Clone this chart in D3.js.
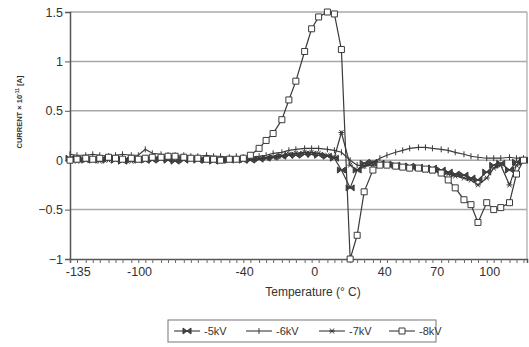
<!DOCTYPE html>
<html>
<head>
<meta charset="utf-8">
<script src="https://cdn.jsdelivr.net/npm/d3@7/dist/d3.min.js"></script>
<style>
  body { margin: 0; background: #fff; }
  svg { display: block; font-family: 'Liberation Sans', Arial, sans-serif; }
</style>
</head>
<body>
<svg id="chart" width="529" height="347"></svg>
<script>
// measurement temperatures (deg C), one per category tick
const temps = [-138, -134, -129, -125, -121, -116, -112, -108, -103, -99, -95, -91, -86, -82, -78, -73,
  -69, -65, -60, -56, -52, -47, -43, -39, -35, -30, -26, -22, -17, -13, -9, -4, 0, 4, 9, 13, 17, 22,
  26, 30, 35, 39, 43, 48, 52, 56, 61, 65, 69, 74, 78, 82, 87, 91, 95, 100, 104, 108, 113, 117, 121];

const xTickLabels = [-135, -100, -40, 0, 40, 70, 100];
const yTickLabels = [-1, -0.5, 0, 0.5, 1, 1.5];

const seriesNames = ['-5kV', '-6kV', '-7kV', '-8kV'];

const kv5 = [0.02, 0.01, 0.0, 0.01, 0.0, 0.01, 0.0, -0.01, 0.0, 0.01, 0.0, 0.0, 0.01, 0.0, -0.01, 0.0,
  0.01, 0.0, 0.0, -0.01, 0.0, 0.0, 0.01, 0.0, 0.0, 0.01, 0.02, 0.03, 0.04, 0.05, 0.05, 0.06, 0.06, 0.05,
  0.04, 0.02, -0.1, -0.28, -0.1, -0.03, -0.02, -0.03, -0.04, -0.05, -0.06, -0.06, -0.07, -0.08, -0.08,
  -0.1, -0.12, -0.14, -0.15, -0.18, -0.2, -0.12, -0.05, -0.03, -0.1, -0.02, 0.0];

const kv6 = [0.06, 0.05, 0.05, 0.06, 0.05, 0.04, 0.05, 0.06, 0.05, 0.05, 0.11, 0.07, 0.06, 0.05, 0.05, 0.05,
  0.04, 0.04, 0.05, 0.04, 0.04, 0.03, 0.04, 0.03, 0.03, 0.04, 0.05, 0.07, 0.08, 0.1, 0.11, 0.12, 0.12, 0.12,
  0.11, 0.1, 0.08, 0.0, -0.05, -0.06, -0.03, 0.02, 0.05, 0.08, 0.1, 0.12, 0.13, 0.13, 0.12, 0.11, 0.1,
  0.08, 0.06, 0.04, 0.03, 0.02, 0.02, 0.02, 0.03, 0.02, 0.02];

const kv7 = [0.0, -0.01, 0.0, 0.0, -0.01, 0.0, 0.01, 0.0, -0.01, 0.0, 0.0, 0.01, 0.02, 0.02, 0.03, 0.03,
  0.02, 0.01, 0.01, 0.02, 0.01, 0.0, 0.01, 0.0, 0.01, 0.02, 0.02, 0.03, 0.04, 0.06, 0.07, 0.08, 0.08, 0.07,
  0.05, 0.03, 0.28, -0.05, -0.1, -0.06, -0.05, -0.04, -0.04, -0.05, -0.06, -0.07, -0.08, -0.1, -0.11,
  -0.12, -0.14, -0.16, -0.18, -0.2, -0.25, -0.18, -0.08, -0.05, -0.25, -0.05, 0.0];

const kv8 = [0.0, 0.01, 0.02, 0.01, 0.02, 0.03, 0.02, 0.01, 0.02, 0.01, 0.02, 0.03, 0.03, 0.04, 0.04, 0.03,
  0.02, 0.02, 0.01, 0.01, 0.0, 0.01, 0.01, 0.02, 0.05, 0.12, 0.2, 0.27, 0.41, 0.61, 0.8, 1.1, 1.33, 1.45,
  1.5, 1.48, 1.12, -1.0, -0.76, -0.32, -0.1, -0.05, -0.05, -0.06, -0.07, -0.08, -0.08, -0.09, -0.1,
  -0.13, -0.2, -0.28, -0.4, -0.45, -0.63, -0.43, -0.5, -0.48, -0.43, -0.14, 0.0];

const seriesValues = [kv5, kv6, kv7, kv8];

// marker shapes, centred on 0,0
const markerPaths = [
  'M-4,-3L4,3L4,-3L-4,3Z',            // bowtie
  'M0,-3V3',                            // small tick / plus
  'M-3,0H3M-2,-2.5L2,2.5M2,-2.5L-2,2.5', // asterisk
  'M-3,-3H3V3H-3Z'                      // square
];

const svg = d3.select('#chart');
const plotLeft = 70, plotRight = 527, plotTop = 12, plotBottom = 259;

const x = d3.scaleLinear().domain([-138, 123]).range([plotLeft, plotRight]);
const y = d3.scaleLinear().domain([-1, 1.5]).range([plotBottom, plotTop]);

// horizontal gridlines
svg.append('g')
  .selectAll('line')
  .data(yTickLabels.filter(v => v > -1))
  .join('line')
  .attr('x1', plotLeft).attr('x2', plotRight)
  .attr('y1', d => y(d)).attr('y2', d => y(d))
  .attr('stroke', '#a8a8a8')
  .attr('stroke-width', 1.5);

// right frame edge
svg.append('line')
  .attr('x1', plotRight).attr('x2', plotRight)
  .attr('y1', plotTop).attr('y2', plotBottom)
  .attr('stroke', '#a8a8a8')
  .attr('stroke-width', 1.2);

// y axis
const yAxis = svg.append('g')
  .attr('transform', `translate(${plotLeft},0)`)
  .call(d3.axisLeft(y).tickValues(yTickLabels).tickSize(5).tickPadding(2).tickFormat(d3.format('')));
yAxis.select('.domain').attr('stroke', '#555').attr('stroke-width', 1.5);
yAxis.selectAll('.tick line').attr('stroke', '#555');
yAxis.selectAll('.tick text')
  .attr('fill', '#333')
  .style('font-size', '12.5px');

// x axis: minor ticks at every measurement, labels at a few
const xAxis = svg.append('g')
  .attr('transform', `translate(0,${plotBottom})`)
  .call(d3.axisBottom(x).tickValues(temps).tickSize(4).tickFormat(''));
xAxis.select('.domain').attr('stroke', '#555').attr('stroke-width', 1.5);
xAxis.selectAll('.tick line').attr('stroke', '#666');

svg.append('g')
  .selectAll('text')
  .data(xTickLabels)
  .join('text')
  .attr('x', d => x(d) + 3)
  .attr('y', plotBottom + 17)
  .attr('text-anchor', 'middle')
  .attr('fill', '#333')
  .style('font-size', '12.5px')
  .text(d => d);

// axis titles
svg.append('text')
  .attr('x', 313).attr('y', 296)
  .attr('text-anchor', 'middle')
  .attr('fill', '#333')
  .style('font-size', '12px')
  .text('Temperature (° C)');

const yTitle = svg.append('text')
  .attr('transform', 'translate(22,112) rotate(-90)')
  .attr('text-anchor', 'middle')
  .attr('fill', '#333')
  .style('font-size', '7.5px')
  .style('font-weight', 'bold');
yTitle.append('tspan').text('CURRENT × 10');
yTitle.append('tspan').attr('dy', -3).style('font-size', '5px').text('-11');
yTitle.append('tspan').attr('dy', 3).text(' [A]');

// series
const line = d3.line()
  .x((d, i) => x(temps[i]))
  .y(d => y(d));

seriesValues.forEach((vals, s) => {
  const g = svg.append('g').attr('class', 'series');
  g.append('path')
    .datum(vals)
    .attr('d', line)
    .attr('fill', 'none')
    .attr('stroke', '#3a3a3a')
    .attr('stroke-width', 1.2);
  g.selectAll('path.marker')
    .data(vals)
    .join('path')
    .attr('class', 'marker')
    .attr('transform', (d, i) => `translate(${x(temps[i])},${y(d)})`)
    .attr('d', markerPaths[s])
    .attr('fill', s === 3 ? '#fff' : (s === 0 ? '#444' : 'none'))
    .attr('stroke', '#3a3a3a')
    .attr('stroke-width', 1);
});

// legend
const legend = svg.append('g');
legend.append('rect')
  .attr('x', 168).attr('y', 320)
  .attr('width', 268).attr('height', 22)
  .attr('fill', '#fff')
  .attr('stroke', '#777')
  .attr('stroke-width', 1);

const legendX = [174, 246, 319, 389];
seriesNames.forEach((name, s) => {
  const lx = legendX[s];
  const item = legend.append('g').attr('transform', `translate(${lx},331)`);
  item.append('line')
    .attr('x1', 0).attr('x2', 26)
    .attr('stroke', '#3a3a3a').attr('stroke-width', 1.1);
  item.append('path')
    .attr('transform', 'translate(13,0)')
    .attr('d', markerPaths[s])
    .attr('fill', s === 3 ? '#fff' : (s === 0 ? '#444' : 'none'))
    .attr('stroke', '#3a3a3a');
  item.append('text')
    .attr('x', 30).attr('y', 4)
    .attr('fill', '#333')
    .style('font-size', '11px')
    .text(name);
});
</script>
</body>
</html>
